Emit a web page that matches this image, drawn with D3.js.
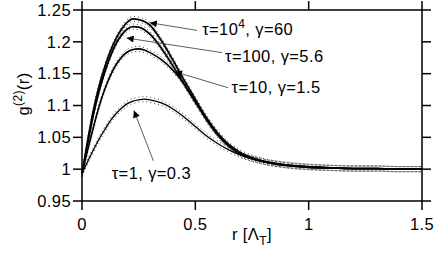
<!DOCTYPE html>
<html><head><meta charset="utf-8">
<script src="https://cdn.jsdelivr.net/npm/d3@7"></script>
<style>
html,body{margin:0;padding:0;background:#fff;}
svg{display:block;font-family:"Liberation Sans",Arial,sans-serif;}
</style></head>
<body>
<svg id="c" width="436" height="253"></svg>
<script>
// ---- data ----
const rGrid = [0, 0.025, 0.05, 0.075, 0.1, 0.125, 0.15, 0.175, 0.2, 0.225, 0.25, 0.275, 0.3, 0.35, 0.4, 0.45, 0.5, 0.55, 0.6, 0.65, 0.7, 0.8, 0.9, 1.0, 1.1, 1.2, 1.3, 1.4, 1.5];
const gTau1e4 = [0.992, 1.045, 1.092, 1.130, 1.160, 1.185, 1.205, 1.220, 1.231, 1.236, 1.235, 1.232, 1.226, 1.202, 1.172, 1.140, 1.110, 1.080, 1.055, 1.036, 1.024, 1.012, 1.006, 1.003, 1.002, 1.001, 1.001, 1.000, 1.000];
const gTau100 = [0.992, 1.040, 1.085, 1.122, 1.152, 1.177, 1.197, 1.211, 1.220, 1.224, 1.223, 1.219, 1.212, 1.190, 1.163, 1.134, 1.105, 1.077, 1.053, 1.035, 1.023, 1.012, 1.006, 1.003, 1.002, 1.001, 1.001, 1.000, 1.000];
const gTau10  = [0.993, 1.030, 1.065, 1.098, 1.125, 1.147, 1.164, 1.176, 1.184, 1.188, 1.189, 1.187, 1.183, 1.172, 1.156, 1.134, 1.107, 1.080, 1.056, 1.038, 1.026, 1.013, 1.007, 1.004, 1.002, 1.001, 1.001, 1.000, 1.000];
const gTau1   = [0.993, 1.012, 1.030, 1.047, 1.062, 1.076, 1.087, 1.096, 1.103, 1.107, 1.109, 1.110, 1.109, 1.104, 1.095, 1.082, 1.067, 1.052, 1.040, 1.030, 1.022, 1.012, 1.007, 1.004, 1.002, 1.001, 1.001, 1.000, 1.000];
const seriesNames = ["τ=10^4, γ=60", "τ=100, γ=5.6", "τ=10, γ=1.5", "τ=1, γ=0.3"];
const bandHalfWidth = [0.004, 0.004, 0.004, 0.004];
const xTicks = [0, 0.5, 1, 1.5];
const yTicks = [0.95, 1, 1.05, 1.1, 1.15, 1.2, 1.25];
// annotation anchors (data coordinates): arrow tip, label position, leader start
const arrowTips = [[0.299, 1.230], [0.197, 1.206], [0.41, 1.153], [0.229, 1.092]];
const labelPos  = [[0.530, 1.211], [0.631, 1.169], [0.660, 1.120], [0.131, 0.984]];
const leaderStart = [[0.507, 1.218], [0.618, 1.183], [0.644, 1.128], [0.315, 1.013]];

const svg = d3.select("#c");
const M = {l:82, r:422, t:10, b:201};
const x = d3.scaleLinear().domain([0,1.5]).range([M.l, M.r]);
const y = d3.scaleLinear().domain([0.95,1.25]).range([M.b, M.t]);

svg.append("defs").append("marker")
  .attr("id","ah").attr("viewBox","0 0 10 10").attr("refX",10).attr("refY",5)
  .attr("markerWidth",10).attr("markerHeight",7).attr("markerUnits","userSpaceOnUse")
  .attr("orient","auto")
  .append("path").attr("d","M0,0 L10,5 L0,10 z").attr("fill","#000");

const allSeries = [gTau1e4, gTau100, gTau10, gTau1];
const widths = [1.8, 1.8, 1.6, 1.3];
const line = d3.line().x(d=>x(d[0])).y(d=>y(d[1])).curve(d3.curveMonotoneX);

const plot = svg.append("g");
allSeries.forEach((s,i)=>{
  const pts = rGrid.map((r,j)=>[r,s[j]]);
  const hw = bandHalfWidth[i];
  [hw,-hw].forEach(o=>{
    plot.append("path").attr("d", line(pts.map(p=>[p[0],p[1]+o])))
      .attr("fill","none").attr("stroke","#444").attr("stroke-width",1)
      .attr("stroke-dasharray","1,3");
  });
  plot.append("path").attr("d", line(pts))
    .attr("fill","none").attr("stroke","#000").attr("stroke-width",widths[i]);
});

// axes box
const tl = 9;
const ax = svg.append("g").attr("stroke","#000").attr("stroke-width",1.5).attr("fill","none");
ax.append("rect").attr("x",M.l).attr("y",M.t).attr("width",M.r-M.l).attr("height",M.b-M.t);
xTicks.forEach(t=>{
  ax.append("line").attr("x1",x(t)).attr("x2",x(t)).attr("y1",M.b).attr("y2",M.b+tl);
  ax.append("line").attr("x1",x(t)).attr("x2",x(t)).attr("y1",M.t).attr("y2",M.t-tl);
});
yTicks.forEach(t=>{
  ax.append("line").attr("x1",M.l).attr("x2",M.l-tl).attr("y1",y(t)).attr("y2",y(t));
  ax.append("line").attr("x1",M.r).attr("x2",M.r+tl).attr("y1",y(t)).attr("y2",y(t));
});
const fs = 16.5, ls = 0.4;
svg.append("g").selectAll("text").data(xTicks).join("text")
  .attr("x",d=>x(d)).attr("y",230).attr("text-anchor","middle").attr("font-size",fs).attr("letter-spacing",ls)
  .text(d=>d3.format("")(d));
svg.append("g").selectAll("text").data(yTicks).join("text")
  .attr("x",71).attr("y",d=>y(d)+5.8).attr("text-anchor","end").attr("font-size",fs).attr("letter-spacing",ls)
  .text(d=>d3.format("")(d));

// axis titles
const xl = svg.append("text").attr("x",252).attr("y",240).attr("text-anchor","middle").attr("font-size",fs).attr("letter-spacing",ls);
xl.append("tspan").text("r [Λ");
xl.append("tspan").attr("font-size",12).attr("dy",5).text("T");
xl.append("tspan").attr("dy",-5).text("]");
const yl = svg.append("text").attr("transform","translate(29,94) rotate(-90)").attr("text-anchor","middle").attr("font-size",fs).attr("letter-spacing",ls);
yl.append("tspan").text("g");
yl.append("tspan").attr("font-size",12).attr("dy",-7).text("(2)");
yl.append("tspan").attr("dy",7).text("(r)");

// annotations
const lab = svg.append("g").attr("font-size",fs).attr("letter-spacing",ls);
labelPos.forEach((p,i)=>{
  svg.append("line")
    .attr("x1",x(leaderStart[i][0])).attr("y1",y(leaderStart[i][1]))
    .attr("x2",x(arrowTips[i][0])).attr("y2",y(arrowTips[i][1]))
    .attr("stroke","#333").attr("stroke-width",0.8).attr("marker-end","url(#ah)");
  const t = lab.append("text").attr("x",x(p[0])).attr("y",y(p[1]));
  const nm = seriesNames[i];
  if(nm.includes("^")){
    const [a,b] = nm.split("^");
    t.append("tspan").text(a);
    t.append("tspan").attr("font-size",12).attr("dy",-7).text(b[0]);
    t.append("tspan").attr("dy",7).text(b.slice(1));
  } else t.text(nm);
});
</script>
</body></html>
